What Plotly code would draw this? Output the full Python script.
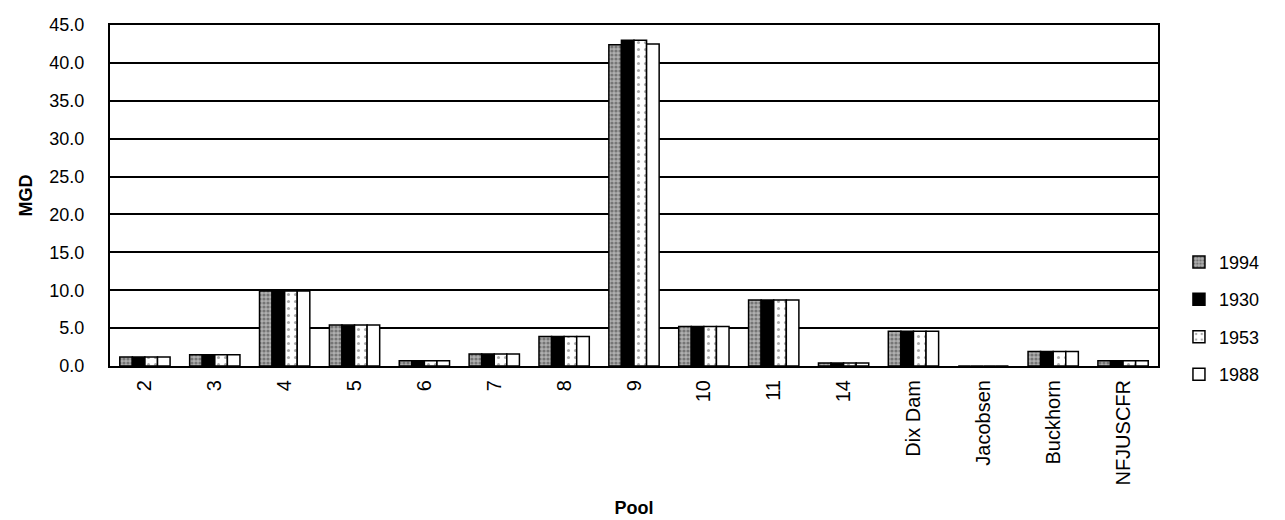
import plotly.graph_objects as go

# Pool categories and flows (MGD) for each year
pools = ["2", "3", "4", "5", "6", "7", "8", "9", "10", "11", "14",
         "Dix Dam", "Jacobsen", "Buckhorn", "NFJUSCFR"]
flow_1994 = [1.2, 1.5, 9.9, 5.4, 0.7, 1.6, 3.9, 42.4, 5.2, 8.7, 0.4, 4.6, 0.0, 1.9, 0.7]
flow_1930 = [1.2, 1.5, 9.9, 5.4, 0.7, 1.6, 3.9, 43.0, 5.2, 8.7, 0.4, 4.6, 0.0, 1.9, 0.7]
flow_1953 = [1.2, 1.5, 9.9, 5.4, 0.7, 1.6, 3.9, 43.0, 5.2, 8.7, 0.4, 4.6, 0.0, 1.9, 0.7]
flow_1988 = [1.2, 1.5, 9.9, 5.4, 0.7, 1.6, 3.9, 42.5, 5.2, 8.7, 0.4, 4.6, 0.0, 1.9, 0.7]
y_ticks = [0, 5, 10, 15, 20, 25, 30, 35, 40, 45]

series = [
    ("1994", flow_1994, dict(color="#9a9a9a", line=dict(color="black", width=1.5),
                             pattern=dict(shape=".", fgcolor="#3a3a3a", bgcolor="#b0b0b0", size=4, solidity=0.5))),
    ("1930", flow_1930, dict(color="black", line=dict(color="black", width=1.5))),
    ("1953", flow_1953, dict(color="white", line=dict(color="black", width=1.5),
                             pattern=dict(shape=".", fgcolor="#555555", bgcolor="white", size=7, solidity=0.15))),
    ("1988", flow_1988, dict(color="white", line=dict(color="black", width=1.5))),
]

fig = go.Figure()
for name, vals, marker in series:
    fig.add_trace(go.Bar(x=pools, y=vals, name=name, legendgroup=name, marker=marker))

fig.update_layout(
    width=1285, height=520,
    margin=dict(l=110, r=127, t=25, b=154),
    paper_bgcolor="white", plot_bgcolor="white",
    barmode="group", bargap=0.28, bargroupgap=0,
    font=dict(family="Arial, Liberation Sans, sans-serif", color="black", size=18),
    showlegend=True,
    legend=dict(x=1.02, y=0.14, xanchor="left", yanchor="middle",
                font=dict(size=18), tracegroupgap=11, itemwidth=30,
                bgcolor="rgba(0,0,0,0)"),
)
fig.update_xaxes(
    type="category", tickangle=-90, showline=True, linecolor="black", linewidth=2,
    mirror=True, ticks="outside", ticklen=4, tickcolor="rgba(0,0,0,0)",
    tickfont=dict(size=20), automargin=False,
    title=dict(text="<b>Pool</b>", font=dict(size=18), standoff=17),
)
fig.update_yaxes(
    range=[0, 45], tickvals=y_ticks, tickformat=".1f",
    showgrid=True, gridcolor="black", gridwidth=1.5,
    showline=True, linecolor="black", linewidth=2, mirror=True,
    ticks="outside", ticklen=20, tickcolor="rgba(0,0,0,0)",
    zeroline=False, tickfont=dict(size=18), automargin=False,
)

# Y-axis label placed beside the tick labels
fig.add_annotation(
    text="<b>MGD</b>", textangle=-90, showarrow=False,
    xref="paper", yref="paper", x=-0.081, y=0.5,
    xanchor="center", yanchor="middle", font=dict(size=18),
)

fig.write_html("out.html")
